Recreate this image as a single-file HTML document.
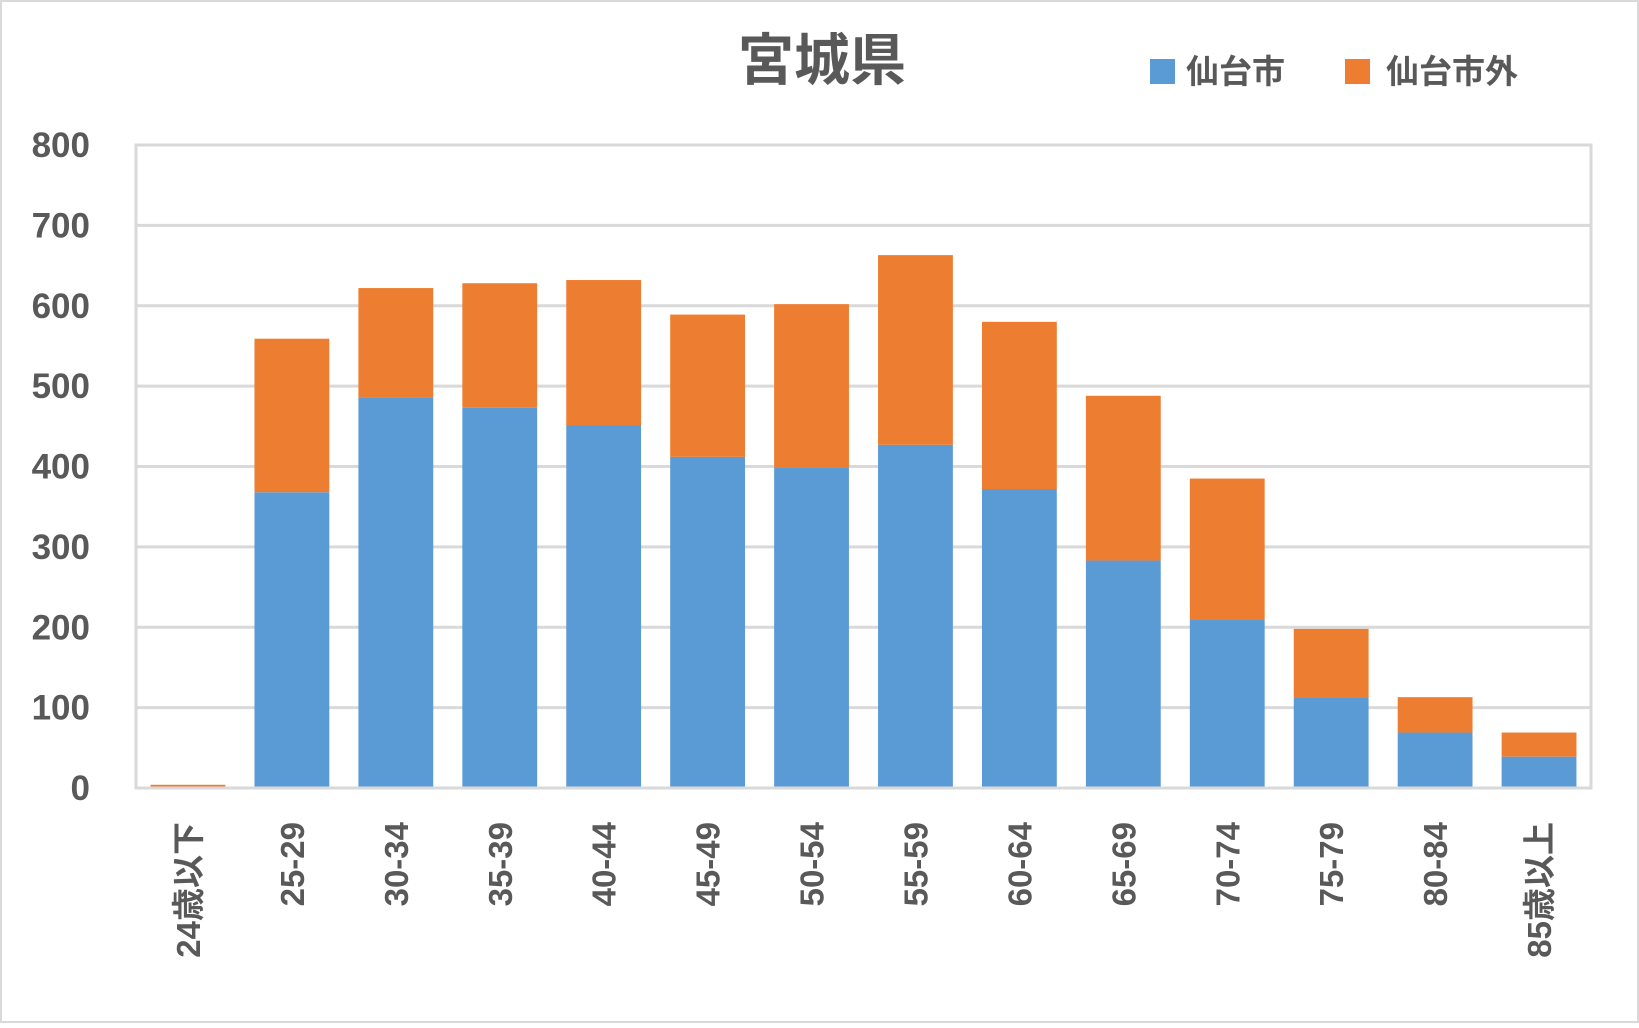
<!DOCTYPE html>
<html><head><meta charset="utf-8"><style>
body{margin:0;background:#fff}
svg text{font-family:"Liberation Sans","Noto Sans CJK JP",sans-serif;font-weight:bold;fill:#595959}
</style></head><body>
<svg width="1639" height="1023" xmlns="http://www.w3.org/2000/svg">
<rect x="1" y="1" width="1637" height="1021" fill="#fff" stroke="#d9d9d9" stroke-width="2"/>
<text x="822" y="80" font-size="56" text-anchor="middle">宮城県</text>
<rect x="1150" y="59" width="25" height="25" fill="#5b9bd5"/>
<text x="1186" y="83" font-size="33">仙台市</text>
<rect x="1345" y="59" width="25" height="25" fill="#ed7d31"/>
<text x="1386" y="83" font-size="33">仙台市外</text>
<g id="grid"></g><g id="bars"></g><g id="labels"></g>
<rect x="136" y="145" width="1455" height="643" fill="none" stroke="#d9d9d9" stroke-width="3"/>
</svg>
<script>
const categories=["24歳以下","25-29","30-34","35-39","40-44","45-49","50-54","55-59","60-64","65-69","70-74","75-79","80-84","85歳以上"];
const sendai=[0,368,486,473,451,412,399,427,372,283,209,112,69,39];
const outside=[4,191,136,155,181,177,203,236,208,205,176,86,44,30];
const yTicks=[0,100,200,300,400,500,600,700,800];
const L=136,R=1591,T=145,B=788,MAX=800;
const ns="http://www.w3.org/2000/svg";
const y=v=>B-(v/MAX)*(B-T);
const slot=(R-L)/categories.length,bw=slot*0.72;
const x=i=>L+slot*i+(slot-bw)/2;
function mk(t,a,p){const e=document.createElementNS(ns,t);for(const k in a)e.setAttribute(k,a[k]);p.appendChild(e);return e;}
const grid=document.getElementById('grid'),bars=document.getElementById('bars'),labels=document.getElementById('labels');
yTicks.forEach(v=>{
 const g=mk('line',{x1:L,x2:R,y1:y(v),y2:y(v),stroke:'#d9d9d9','stroke-width':3},grid);
 
 
 const t=mk('text',{x:90,y:y(v)+12,'font-size':35,'text-anchor':'end'},labels);
 t.textContent=v;
 
 
});
categories.forEach((c,i)=>{
 const b=mk('rect',{x:x(i),y:y(sendai[i]),width:bw,height:B-y(sendai[i]),fill:'#5b9bd5'},bars);
 
 
 const tot=sendai[i]+outside[i];
 const o=mk('rect',{x:x(i),y:y(tot),width:bw,height:y(sendai[i])-y(tot),fill:'#ed7d31'},bars);
 
 
 const cx=x(i)+bw/2+12;
 const t=mk('text',{x:cx,y:822,'font-size':33,'text-anchor':'end',transform:`rotate(-90 ${cx} 822)`},labels);
 t.textContent=c;
 
 
});
</script>
</body></html>
